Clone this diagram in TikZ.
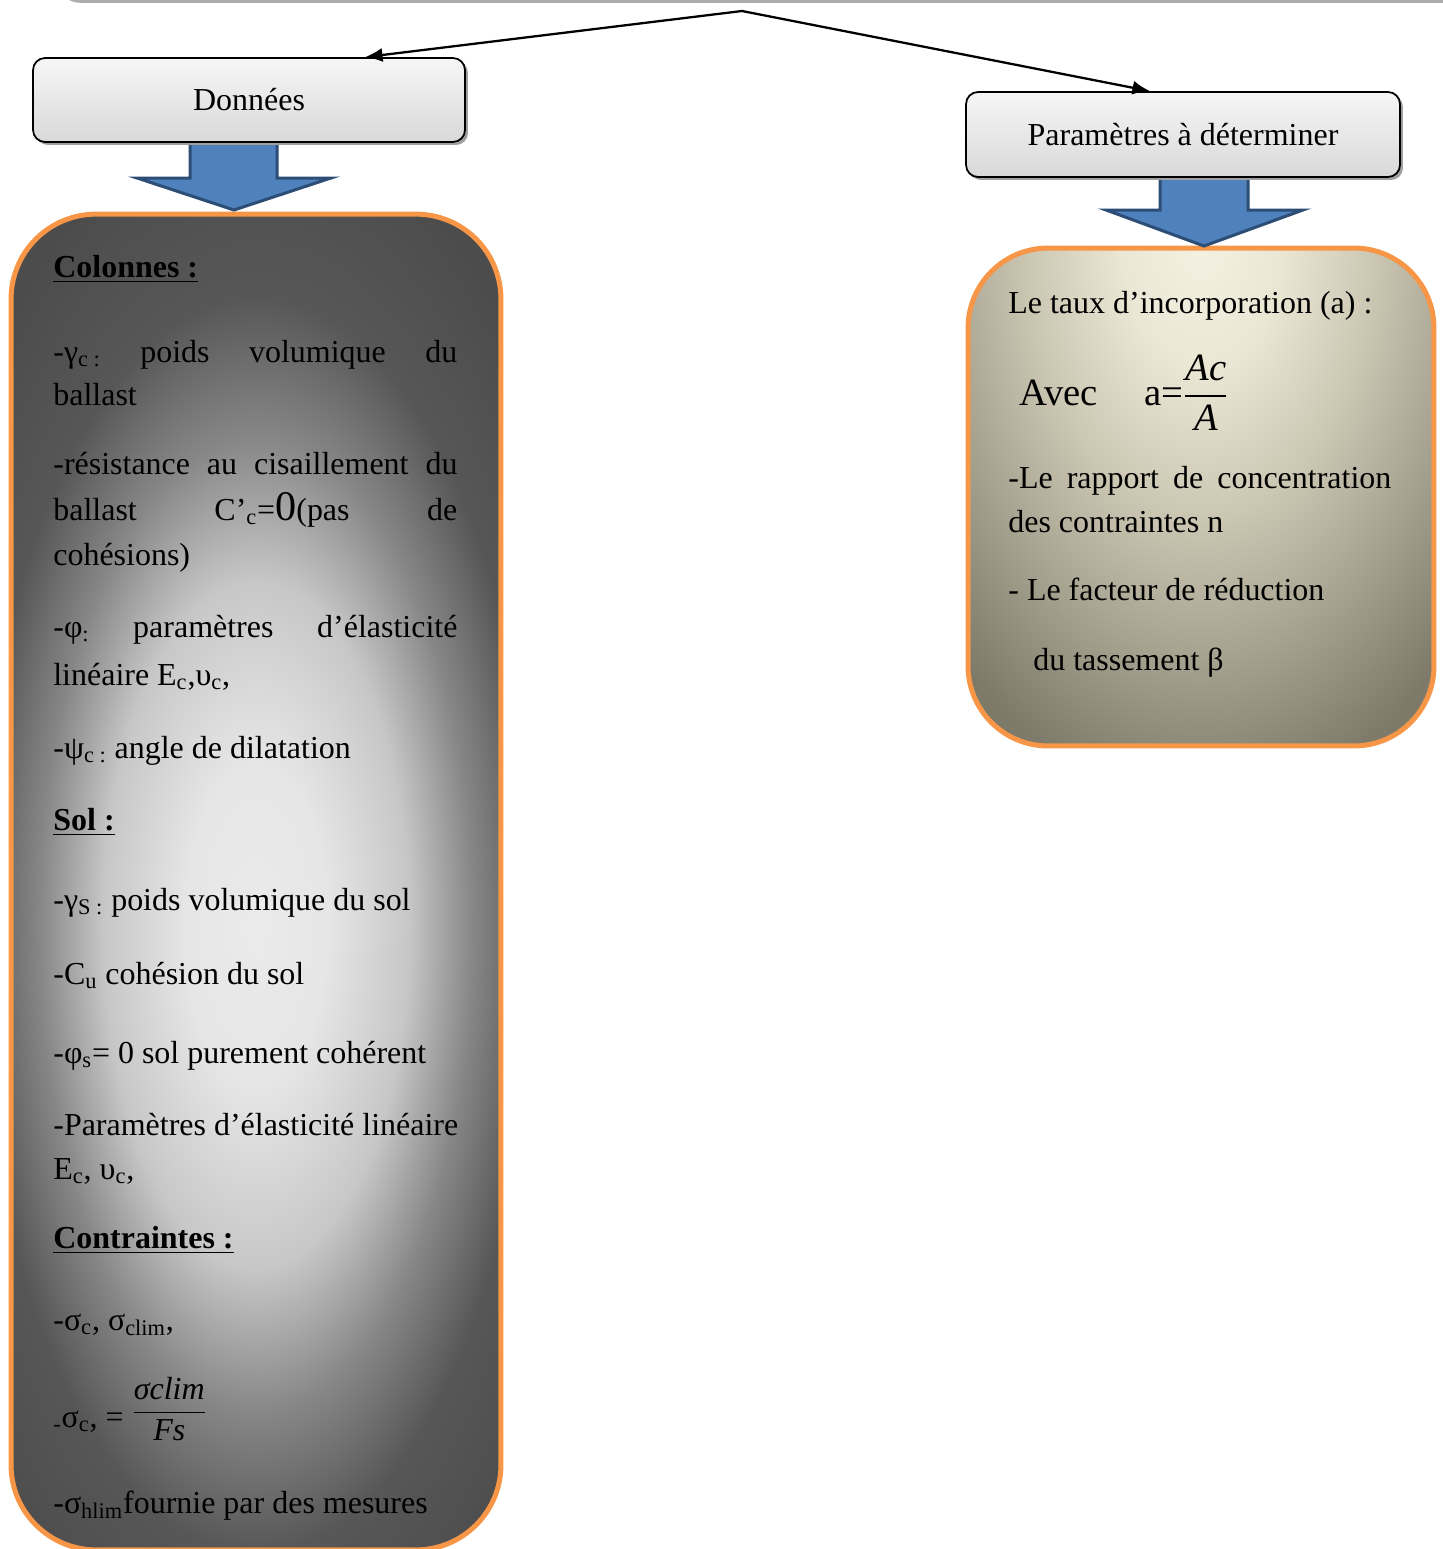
\documentclass[tikz,border=0pt]{standalone}
\usepackage{fontspec}
\setmainfont{Liberation Serif}
\usepackage{amsmath}
\usetikzlibrary{shadows,arrows.meta}

\definecolor{orangeb}{HTML}{F79646}
\definecolor{blueb}{HTML}{4F81BD}
\definecolor{bluedk}{HTML}{2C4D75}
\definecolor{creme}{HTML}{F4F1E2}
\definecolor{cremeA}{HTML}{EBE7D5}
\definecolor{cremeB}{HTML}{CBC7B3}
\definecolor{cremeC}{HTML}{A5A18F}
\definecolor{olive}{HTML}{7E7A69}
\definecolor{olivedk}{HTML}{716D5D}

\pgfdeclareradialshading{colshade}{\pgfpoint{0bp}{0bp}}{color(0bp)=(white!92!black); color(5bp)=(white!90!black); color(10.6bp)=(white!78!black); color(15bp)=(black!47); color(19.4bp)=(black!66); color(25bp)=(black!70); color(50bp)=(black!70)}
\pgfdeclareradialshading{tauxshade}{\pgfpoint{0bp}{0bp}}{color(0bp)=(creme); color(3.3bp)=(cremeA); color(7.2bp)=(cremeB); color(11bp)=(cremeC); color(14.8bp)=(olive); color(25bp)=(olivedk); color(50bp)=(olivedk)}

\newcommand{\jl}[2][230pt]{\makebox[#1][s]{#2}}
\newcommand{\bodyfont}{\fontsize{18.2}{22}\selectfont}

\tikzset{
  txt/.style={anchor=base west, inner sep=0pt, font=\bodyfont},
  smallbox/.style={draw=black, line width=1pt, rounded corners=0.24cm,
    top color=gray!7, bottom color=gray!30, font=\bodyfont,
    drop shadow={shadow xshift=0.06cm, shadow yshift=-0.06cm, fill=gray!75, opacity=1}},
  colbox/.style={draw=orangeb, line width=0.1cm, rounded corners=1.7cm},
  tauxbox/.style={draw=orangeb, line width=0.1cm, rounded corners=1.6cm},
  bigarrow/.style={fill=blueb, draw=bluedk, line width=0.06cm, line join=miter},
  conn/.style={line width=1.3pt, -{Latex[length=10pt,width=8pt]}}
}

\begin{document}
\begin{tikzpicture}[x=0.02cm, y=-0.02cm]
\useasboundingbox (0,0) rectangle (1443,1549);

% bord du cadre du haut
\draw[gray!65, line width=0.07cm] (62,-14) to[out=-90, in=180] (80,1) -- (1443,1);

% grands cadres (fond degrade puis bord)
\begin{scope}
  \clip[rounded corners=1.7cm] (11,214) rectangle (501,1550);
  \shade[shading=colshade, transform canvas={shift={(256,925)}, yscale=2.25}] (-360,-360) rectangle (360,360);
\end{scope}
\begin{scope}
  \clip[rounded corners=1.6cm] (968,248) rectangle (1434,746);
  \shade[shading=tauxshade, transform canvas={shift={(1201,240)}, yscale=1.6}] (-600,-600) rectangle (600,600);
\end{scope}
\node[colbox, minimum width=9.8cm, minimum height=26.72cm] (colonnes) at (256,882) {};
\node[tauxbox, minimum width=9.32cm, minimum height=9.96cm] (tauxbox) at (1201,497) {};

% fleches bleues
\draw[bigarrow] (190,142) -- (190,178) -- (137,178) -- (234,210) -- (331,178) -- (277,178) -- (277,142) -- cycle;
\draw[bigarrow] (1160,176) -- (1160,210) -- (1106,210) -- (1204,246) -- (1303,210) -- (1248,210) -- (1248,176) -- cycle;

% titres
\node[smallbox, minimum width=8.64cm, minimum height=1.68cm] (donnees) at (249,100) {Données};
\node[smallbox, minimum width=8.68cm, minimum height=1.7cm] (param) at (1183,134.5) {Paramètres à déterminer};

\coordinate (apex) at (742,11);
\draw[conn] (apex) -- ([xshift=2.32cm]donnees.north);
\draw[conn] (apex) -- ([xshift=-0.66cm]param.north);

% donnees
\node[txt] (coltitre) at (53,277) {\underline{\textbf{Colonnes :}}};
\node[txt] (gammac) at (53,362) {\jl{-γ\textsubscript{c :} poids volumique du}};
\node[txt] (ballastA) at (53,405) {ballast};
\node[txt] (resist) at (53,474) {\jl{-résistance au cisaillement du}};
\node[txt] (ballastB) at (53,520) {\jl{ballast C’\textsubscript{c}={\fontsize{24}{24}\selectfont 0}(pas de}};
\node[txt] (cohes) at (53,565) {cohésions)};
\node[txt] (phic) at (53,637) {\jl{-φ\textsubscript{:} paramètres d’élasticité}};
\node[txt] (lin) at (53,685) {linéaire E\textsubscript{c},υ\textsubscript{c},};
\node[txt] (psic) at (53,758) {-ψ\textsubscript{c :} angle de dilatation};
\node[txt] (soltitre) at (53,830) {\underline{\textbf{Sol :}}};
\node[txt] (gammas) at (53,910) {-γ\textsubscript{S :} poids volumique du sol};
\node[txt] (cu) at (53,984) {-C\textsubscript{u} cohésion du sol};
\node[txt] (phis) at (53,1063) {-φ\textsubscript{s}= 0 sol purement cohérent};
\node[txt] (elast) at (53,1135) {-Paramètres d’élasticité linéaire};
\node[txt] (ec) at (53,1179) {E\textsubscript{c}, υ\textsubscript{c},};
\node[txt] (contitre) at (53,1248) {\underline{\textbf{Contraintes :}}};
\node[txt] (sigc) at (53,1330) {-σ\textsubscript{c}, σ\textsubscript{clim},};
\node[txt] (sigfrac) at (53,1427) {\textsubscript{-}σ\textsubscript{c}, = \raisebox{4pt}{$\dfrac{\textit{σclim}}{\textit{Fs}}$}};
\node[txt] (sighlim) at (53,1513) {-σ\textsubscript{hlim}fournie par des mesures};

% parametres
\node[txt] (taux) at (1008,313) {Le taux d’incorporation (a) :};
\node[txt, font=\fontsize{22}{26}\selectfont] (avec) at (1019,405) {Avec};
\node[txt, font=\fontsize{22}{26}\selectfont] (aeq) at (1144,405) {a=$\dfrac{\textit{Ac}}{\textit{A}}$};
\node[txt] (rapport) at (1008,488) {\jl[218pt]{-Le rapport de concentration}};
\node[txt] (contr) at (1008,532) {des contraintes n};
\node[txt] (facteur) at (1008,600) {- Le facteur de réduction};
\node[txt] (tass) at (1033,670) {du tassement β};
\end{tikzpicture}
\end{document}
